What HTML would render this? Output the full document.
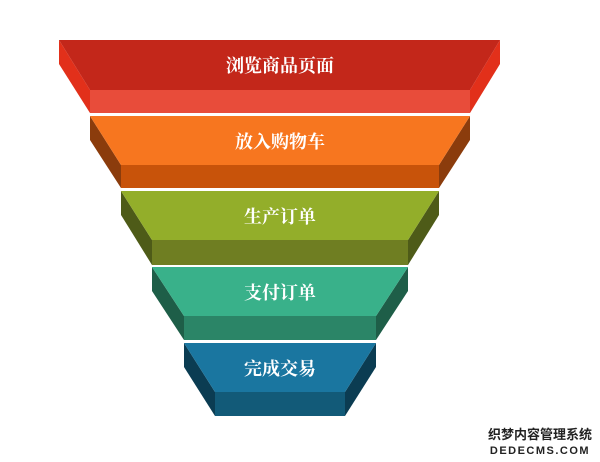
<!DOCTYPE html>
<html><head><meta charset="utf-8"><style>
body{margin:0;background:#fff;width:600px;height:462px;overflow:hidden}
svg{display:block}
text{font-family:"Liberation Serif","Noto Serif CJK SC",serif;font-size:18px;fill:#fff;text-anchor:middle;font-weight:bold}
</style></head><body>
<svg width="600" height="462" viewBox="0 0 600 462">
<g>
<polygon points="59,40 59,64 90,113 90,90" fill="#e2301a"/>
<polygon points="500,40 500,64 470,113 470,90" fill="#e2301a"/>
<polygon points="59,40 500,40 470,90 90,90" fill="#c3271a"/>
<rect x="90" y="90" width="380" height="23" fill="#e84c3a"/>
<text x="280" y="72">浏览商品页面</text>
</g>
<g>
<polygon points="90,116 90,140 121,188 121,165" fill="#8b3c0c"/>
<polygon points="470,116 470,140 439,188 439,165" fill="#8b3c0c"/>
<polygon points="90,116 470,116 439,165 121,165" fill="#f7761f"/>
<rect x="121" y="165" width="318" height="23" fill="#c8530a"/>
<text x="280" y="148">放入购物车</text>
</g>
<g>
<polygon points="121,191 121,215 152,265 152,240" fill="#4e5b18"/>
<polygon points="439,191 439,215 408,265 408,240" fill="#4e5b18"/>
<polygon points="121,191 439,191 408,240 152,240" fill="#93ae2a"/>
<rect x="152" y="240" width="256" height="25" fill="#6f7e22"/>
<text x="280" y="223">生产订单</text>
</g>
<g>
<polygon points="152,267 152,291 184,340 184,316" fill="#1e5e48"/>
<polygon points="408,267 408,291 376,340 376,316" fill="#1e5e48"/>
<polygon points="152,267 408,267 376,316 184,316" fill="#39b18a"/>
<rect x="184" y="316" width="192" height="24" fill="#2b8567"/>
<text x="280" y="299">支付订单</text>
</g>
<g>
<polygon points="184,343 184,367 215,416 215,392" fill="#0b3c52"/>
<polygon points="376,343 376,367 345,416 345,392" fill="#0b3c52"/>
<polygon points="184,343 376,343 345,392 215,392" fill="#1a76a0"/>
<rect x="215" y="392" width="130" height="24" fill="#125a78"/>
<text x="280" y="375">完成交易</text>
</g>
<text x="540" y="439" style="fill:#222;font-family:'Liberation Sans','Noto Sans CJK SC',sans-serif;font-size:13px;font-weight:bold">织梦内容管理系统</text>
<text x="540" y="454" style="fill:#222;font-family:'Liberation Sans',sans-serif;font-size:11px;font-weight:bold;letter-spacing:1.5px">DEDECMS.COM</text>
</svg>
</body></html>
